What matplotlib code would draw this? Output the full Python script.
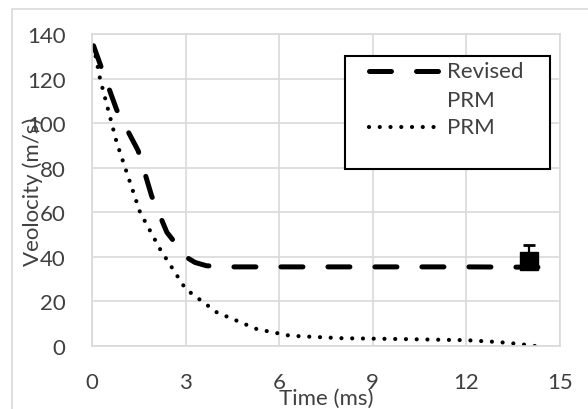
import matplotlib
matplotlib.use("Agg")
import matplotlib.pyplot as plt
from matplotlib.patches import Rectangle
from matplotlib.lines import Line2D

# data
t_revised = [0.05, 0.26, 0.79, 1.48, 1.91, 2.4, 3.03, 3.3, 3.67, 4.5, 6, 9, 12, 15]
v_revised = [134.7, 126.5, 106, 87.6, 67.4, 51, 39.8, 37.5, 36, 35.5, 35.5, 35.5, 35.5, 35.3]

t_prm = [0.05, 0.26, 0.79, 1.54, 2.18, 3.0, 4.0, 5.28, 6.35, 8, 10, 12, 13, 13.7, 14.2]
v_prm = [134.7, 119.8, 91.4, 60, 43.5, 25.6, 15.1, 7.6, 4.6, 3.5, 3.1, 2.6, 1.8, 0.9, 0]

t_exp = [14]
v_exp = [38]
err_exp = [7.5]

x_ticks = [0, 3, 6, 9, 12, 15]
y_ticks = [0, 20, 40, 60, 80, 100, 120, 140]

plt.rcParams['font.family'] = ['Lato', 'DejaVu Sans']
txt_col = '#404040'
grid_col = '#d9d9d9'
fs = 16

fig = plt.figure(figsize=(5.88, 4.10), dpi=100)
ax = fig.add_axes([92/588, 1 - 347/410, 468/588, 312/410])

# outer chart border
fig.add_artist(Rectangle((12/588, -0.01), 0.99, 1 - 10/410 + 0.01, transform=fig.transFigure,
                         fill=False, edgecolor=grid_col, lw=1.2))

ax.plot(t_revised, v_revised, color='black', lw=3.6, linestyle=(0, (4.4, 5)),
        dash_capstyle='round', solid_capstyle='round')
ax.plot(t_prm, v_prm, color='black', lw=3, linestyle=(0, (0.01, 2.57)),
        dash_capstyle='round')
ax.errorbar(t_exp, v_exp, yerr=[[0], err_exp], fmt='s', color='black', ms=13.5,
            capsize=4.3, elinewidth=1.6, capthick=2)

ax.set_xlim(0, 15)
ax.set_ylim(0, 140)
ax.set_xticks(x_ticks)
ax.set_yticks(y_ticks)
ax.grid(True, color=grid_col, lw=1.2)
ax.set_axisbelow(True)
for s in ax.spines.values():
    s.set_color(grid_col)
    s.set_linewidth(1.2)
ax.tick_params(length=0, labelsize=fs, labelcolor=txt_col, pad=19)

fig.text(33/588, 1 - 192/410, 'Veolocity (m/s)', rotation=90, ha='center', va='center',
         fontsize=fs, color=txt_col)
fig.text(326/588, 1 - 399/410, 'Time (ms)', ha='center', va='center',
         fontsize=fs, color=txt_col)

# legend box
fig.add_artist(Rectangle((345/588, 1 - 170/410), 205/588, 113/410, transform=fig.transFigure,
                         fill=True, facecolor='white', edgecolor='black', lw=1.5, zorder=5))
fig.add_artist(Line2D([369/588, 440/588], [1 - 72/410, 1 - 72/410], transform=fig.transFigure,
                      color='black', lw=3.6, linestyle=(0, (4.4, 5)), dash_capstyle='round', zorder=6))
fig.add_artist(Line2D([369/588, 440/588], [1 - 128/410, 1 - 128/410], transform=fig.transFigure,
                      color='black', lw=3, linestyle=(0, (0.01, 2.57)), dash_capstyle='round', zorder=6))
fig.text(447/588, 1 - 72/410, 'Revised', ha='left', va='center', fontsize=fs, color=txt_col, zorder=7)
fig.text(447/588, 1 - 101/410, 'PRM', ha='left', va='center', fontsize=fs, color=txt_col, zorder=7)
fig.text(447/588, 1 - 128/410, 'PRM', ha='left', va='center', fontsize=fs, color=txt_col, zorder=7)

fig.savefig('out.png', dpi=100)
